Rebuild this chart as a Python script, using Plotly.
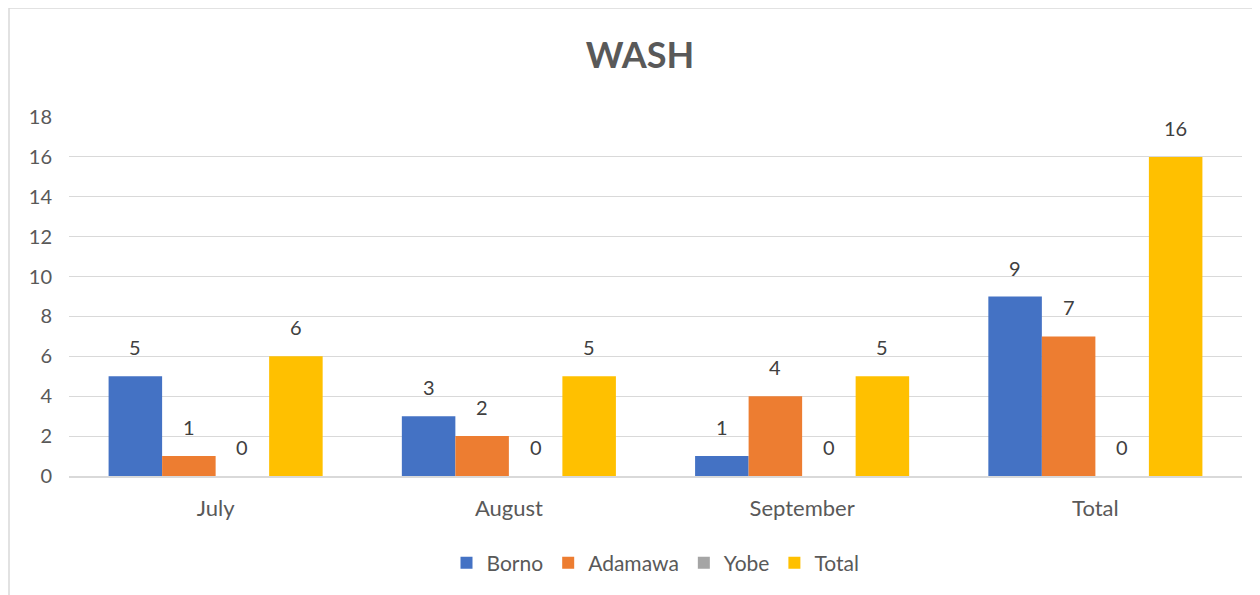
import plotly.graph_objects as go

categories = ["July", "August", "September", "Total"]
borno = [5, 3, 1, 9]
adamawa = [1, 2, 4, 7]
yobe = [0, 0, 0, 0]
total = [6, 5, 5, 16]
series_names = ["Borno", "Adamawa", "Yobe", "Total"]
series_colors = ["#4472C4", "#ED7D31", "#A5A5A5", "#FFC000"]
y_ticks = [0, 2, 4, 6, 8, 10, 12, 14, 16, 18]

FONT = "Lato, Carlito, Calibri, sans-serif"
TXT = "#595959"

W, H = 1252, 587
ML, MR, MT, MB = 61, 18, 109, 119
BARGAP = 0.27
plot_w = W - ML - MR
plot_h = H - MT - MB
cat_w = plot_w / len(categories)
bar_w = cat_w * (1 - BARGAP) / len(series_names)

fig = go.Figure()
all_vals = [borno, adamawa, yobe, total]
for i, (name, vals, col) in enumerate(zip(series_names, all_vals, series_colors)):
    fig.add_trace(go.Bar(
        name=name, x=categories, y=vals,
        marker=dict(color=col, line=dict(width=0)),
    ))
    for c, v in zip(categories, vals):
        fig.add_annotation(x=c, y=v, xref="x", yref="y", text=str(v), showarrow=False,
                           xshift=(i - (len(series_names) - 1) / 2) * bar_w, yshift=29,
                           yanchor="middle", xanchor="center",
                           font=dict(family=FONT, size=20, color="#404040"))

fig.update_layout(
    width=W, height=H,
    paper_bgcolor="white", plot_bgcolor="white",
    margin=dict(l=ML, r=MR, t=MT, b=MB),
    barmode="group", bargap=BARGAP, bargroupgap=0,
    title=dict(text="<b>WASH</b>", x=0.5048, xanchor="center", y=0.92, yanchor="middle",
               font=dict(family=FONT, size=36, color=TXT)),
    font=dict(family=FONT, size=20, color=TXT),
    legend=dict(orientation="h", x=0.5, xanchor="center", y=-87 / plot_h, yanchor="middle",
                font=dict(family=FONT, size=21, color=TXT), traceorder="normal",
                itemwidth=30, tracegroupgap=0),
    showlegend=True,
)
fig.update_xaxes(showgrid=False, showline=True, linecolor="#D9D9D9", linewidth=1.5,
                 ticks="", tickfont=dict(family=FONT, size=22, color=TXT), ticklabelstandoff=12)
fig.update_yaxes(range=[0, 18], tickvals=y_ticks, showgrid=True, gridcolor="#D9D9D9",
                 gridwidth=1.3, zeroline=False, showline=False, ticks="",
                 tickfont=dict(family=FONT, size=20, color=TXT), ticklabelstandoff=16)

fig.add_shape(type="rect", xref="paper", yref="paper",
              x0=-(ML - 1) / plot_w, x1=(W - ML + 20) / plot_w,
              y0=-(MB + 20) / plot_h, y1=1 + MT / plot_h,
              line=dict(color="#D9D9D9", width=1.5), fillcolor="rgba(0,0,0,0)", layer="below")

fig.write_html("out.html")
